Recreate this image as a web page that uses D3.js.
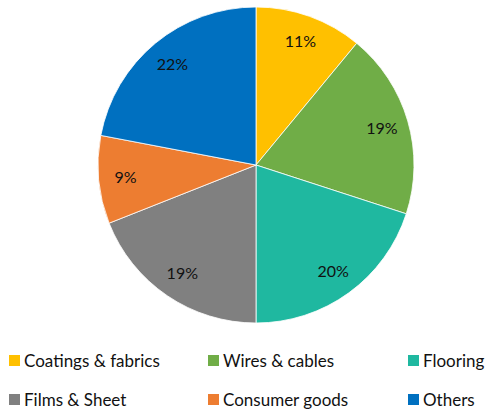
<!DOCTYPE html>
<html>
<head>
<meta charset="utf-8">
<script src="https://cdn.jsdelivr.net/npm/d3@7"></script>
<style>
  html, body { margin: 0; padding: 0; background: #fff; }
  svg { display: block; }
</style>
</head>
<body>
<svg id="chart" width="485" height="414"></svg>
<script>
// Market share by application
const categories = ["Coatings & fabrics", "Wires & cables", "Flooring", "Films & Sheet", "Consumer goods", "Others"];
const shares = [11, 19, 20, 19, 9, 22];
const colors = ["#FFC000", "#70AD47", "#1FB8A0", "#808080", "#ED7D31", "#0070C0"];

const data = categories.map((c, i) => ({ name: c, value: shares[i], color: colors[i] }));

const svg = d3.select("#chart");
const cx = 256, cy = 165, radius = 158;
const font = "Lato, 'Open Sans', sans-serif";

const pie = d3.pie().value(d => d.value).sort(null);
const arc = d3.arc().innerRadius(0).outerRadius(radius);
const labelArc = d3.arc().innerRadius(radius * 0.83).outerRadius(radius * 0.83);

const g = svg.append("g").attr("transform", `translate(${cx},${cy})`);
const arcs = pie(data);

g.selectAll("path.slice")
  .data(arcs)
  .enter().append("path")
  .attr("class", "slice")
  .attr("d", arc)
  .attr("fill", d => d.data.color)
  .attr("stroke", "#fff")
  .attr("stroke-width", 0.8);

g.selectAll("text.pct")
  .data(arcs)
  .enter().append("text")
  .attr("class", "pct")
  .attr("transform", d => `translate(${labelArc.centroid(d)})`)
  .attr("text-anchor", "middle")
  .attr("dy", "0.35em")
  .attr("font-family", font)
  .attr("font-size", 16)
  .attr("fill", "#111")
  .text(d => d.data.value + "%");

// Legend: three columns, two rows
const colX = [9, 208, 408];
const rowY = [361, 400];
const legend = svg.append("g");
data.forEach((d, i) => {
  const x = colX[i % 3], y = rowY[Math.floor(i / 3)];
  const item = legend.append("g").attr("transform", `translate(${x},${y})`);
  item.append("rect").attr("x", 0).attr("y", -6).attr("width", 11).attr("height", 11).attr("fill", d.color);
  item.append("text")
    .attr("x", 15).attr("y", 0).attr("dy", "0.35em")
    .attr("font-family", font).attr("font-size", 17).attr("fill", "#111")
    .text(d.name);
});
</script>
</body>
</html>
